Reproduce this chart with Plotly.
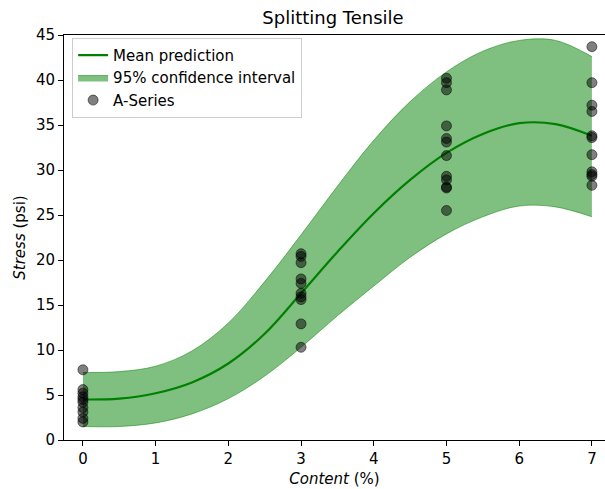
import plotly.graph_objects as go

# Gaussian-process style fit
grid_x = [0, 0.5, 1, 1.5, 2, 2.5, 3, 3.5, 4, 4.5, 5, 5.5, 6, 6.5, 7]
mean_y = [4.5, 4.6, 5.2, 6.4, 8.5, 11.8, 16.3, 20.9, 25.2, 28.9, 31.9, 34.0, 35.2, 35.1, 33.8]
upper_y = [7.5, 7.6, 8.2, 9.9, 13.0, 17.6, 22.8, 28.2, 33.3, 37.6, 40.9, 43.2, 44.4, 44.4, 42.6]
lower_y = [1.5, 1.5, 1.9, 2.9, 4.6, 7.1, 10.3, 13.8, 17.1, 20.3, 22.9, 24.8, 26.0, 25.9, 24.8]

# Observed A-Series data
pts_x = ([0] * 10) + ([3] * 10) + ([5] * 12) + ([7] * 11)
pts_y = [7.8, 5.6, 5.2, 4.8, 4.5, 4.2, 3.6, 3.1, 2.4, 2.0,
         20.7, 20.4, 19.7, 17.9, 17.4, 16.3, 15.9, 15.6, 12.9, 10.3,
         40.2, 39.7, 38.9, 34.9, 33.5, 33.1, 31.6, 29.3, 28.9, 28.1, 28.0, 25.5,
         43.7, 39.7, 37.2, 36.5, 33.8, 33.6, 31.7, 29.8, 29.5, 29.3, 28.3]

x_ticks = [0, 1, 2, 3, 4, 5, 6, 7]
y_ticks = [0, 5, 10, 15, 20, 25, 30, 35, 40, 45]

GREEN = "rgb(0,128,0)"
FONT = "DejaVu Sans"

fig = go.Figure()

fig.add_trace(go.Scatter(
    x=grid_x, y=lower_y,
    mode="lines",
    line=dict(color="rgba(0,128,0,0.5)", width=1, shape="spline", smoothing=1.0),
    showlegend=False, hoverinfo="skip",
))
fig.add_trace(go.Scatter(
    x=grid_x, y=upper_y,
    fill="tonexty",
    fillcolor="rgba(0,128,0,0.5)",
    line=dict(color="rgba(0,128,0,0.5)", width=1, shape="spline", smoothing=1.0),
    mode="lines",
    name="95% confidence interval",
    legendrank=2,
    hoverinfo="skip",
))

fig.add_trace(go.Scatter(
    x=grid_x, y=mean_y,
    mode="lines",
    line=dict(color=GREEN, width=2.2, shape="spline", smoothing=1.0),
    name="Mean prediction",
    legendrank=1,
))

fig.add_trace(go.Scatter(
    x=pts_x, y=pts_y,
    mode="markers",
    marker=dict(size=10, color="rgba(0,0,0,0.5)",
                line=dict(color="rgba(0,0,0,0.5)", width=1)),
    name="A-Series",
    legendrank=3,
))

fig.update_layout(
    width=605, height=489,
    margin=dict(l=64, r=0, t=35, b=49),
    plot_bgcolor="white",
    paper_bgcolor="white",
    font=dict(family=FONT, size=15, color="black"),
    title=dict(text="Splitting Tensile", x=(333 / 605), xanchor="center",
               y=1 - 18 / 489, yanchor="middle",
               font=dict(family=FONT, size=18, color="black")),
    showlegend=True,
    legend=dict(x=0.015, y=0.993, xanchor="left", yanchor="top",
                traceorder="normal",
                bgcolor="rgba(255,255,255,0.8)", bordercolor="#cccccc",
                borderwidth=1, font=dict(family=FONT, size=15),
                itemwidth=30, tracegroupgap=0),
)

fig.update_xaxes(
    range=[-0.26, 7.18],
    tickvals=x_ticks, ticktext=[str(v) for v in x_ticks],
    showgrid=False, zeroline=False,
    showline=True, linecolor="black", linewidth=1, mirror=True,
    ticks="outside", ticklen=5, tickcolor="black",
    tickfont=dict(family=FONT, size=15),
    title=dict(text="<i>Content</i> (%)", standoff=6,
               font=dict(family=FONT, size=15)),
)
fig.update_yaxes(
    range=[0, 45],
    tickvals=y_ticks, ticktext=[str(v) for v in y_ticks],
    showgrid=False, zeroline=False,
    showline=True, linecolor="black", linewidth=1, mirror=False,
    ticks="outside", ticklen=5, tickcolor="black",
    tickfont=dict(family=FONT, size=15),
    title=dict(text="<i>Stress</i> (psi)", standoff=6,
               font=dict(family=FONT, size=15)),
)

fig.write_html("out.html")
